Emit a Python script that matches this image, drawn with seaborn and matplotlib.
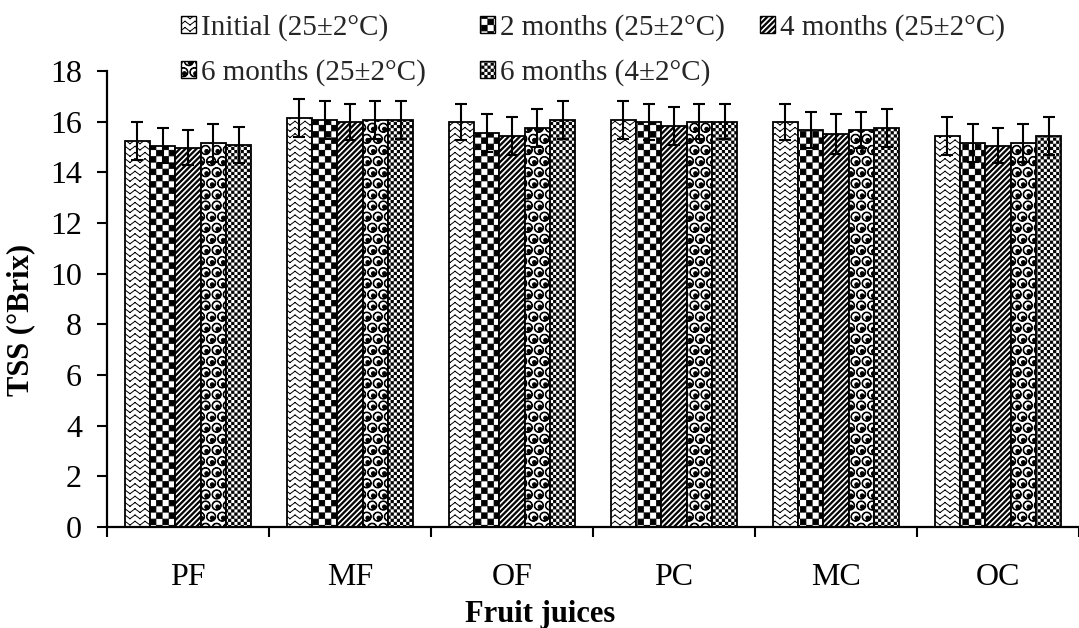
import warnings
warnings.filterwarnings("ignore")
import numpy as np
import pandas as pd
import matplotlib
matplotlib.use("Agg")
import matplotlib.pyplot as plt
import matplotlib.hatch as mhatch
import matplotlib.patches as mpatches
from matplotlib.path import Path
import seaborn as sns

# ---------------- data ----------------
juices = ["PF", "MF", "OF", "PC", "MC", "OC"]
storage = ["Initial (25\u00b12\u00b0C)", "2 months (25\u00b12\u00b0C)", "4 months (25\u00b12\u00b0C)",
           "6 months (25\u00b12\u00b0C)", "6 months (4\u00b12\u00b0C)"]
tss_initial = [15.24, 16.13, 15.98, 16.07, 15.99, 15.45]
tss_2m = [15.05, 16.07, 15.54, 15.99, 15.67, 15.16]
tss_4m = [14.97, 15.98, 15.45, 15.84, 15.51, 15.05]
tss_6m = [15.16, 16.07, 15.75, 16.00, 15.67, 15.16]
tss_6m_cold = [15.07, 16.07, 16.07, 16.00, 15.75, 15.45]
sd_initial = [0.75, 0.75, 0.70, 0.75, 0.70, 0.75]
sd_2m = [0.70, 0.75, 0.75, 0.70, 0.70, 0.75]
sd_4m = [0.70, 0.70, 0.75, 0.75, 0.80, 0.70]
sd_6m = [0.75, 0.75, 0.75, 0.70, 0.70, 0.75]
sd_6m_cold = [0.70, 0.75, 0.75, 0.70, 0.75, 0.75]
yticks = [0, 2, 4, 6, 8, 10, 12, 14, 16, 18]

series = [tss_initial, tss_2m, tss_4m, tss_6m, tss_6m_cold]
errors = [sd_initial, sd_2m, sd_4m, sd_6m, sd_6m_cold]

# ---------------- custom hatch patterns ----------------
mhatch._validate_hatch_pattern = lambda h: None


def _square(x0, y0, x1, y1):
    return [(x0, y0), (x1, y0), (x1, y1), (x0, y1), (x0, y0)], \
        [Path.MOVETO, Path.LINETO, Path.LINETO, Path.LINETO, Path.CLOSEPOLY]


def _circle(cx, cy, r, reverse=False):
    c = Path.unit_circle()
    v = c.vertices * r + np.array([cx, cy])
    cd = c.codes.copy()
    if reverse:
        v = v[::-1]
    return [tuple(p) for p in v], list(cd)


class _CustomHatch(mhatch.HatchPatternBase):
    char = "?"

    def __init__(self, hatch, density):
        n = hatch.count(self.char)
        verts, codes = [], []
        if n:
            verts, codes = self.build(n)
        self._v = np.array(verts, dtype=float).reshape(-1, 2)
        self._c = np.array(codes, dtype=Path.code_type)
        self.num_vertices = len(self._v)

    def set_vertices_and_codes(self, vertices, codes):
        vertices[:] = self._v
        codes[:] = self._c


class _Checker(_CustomHatch):
    m = 16
    e = 0.004

    def build(self, n):
        m, e = self.m, self.e
        s = 1.0 / m
        V, C = [], []
        for i in range(m):
            for j in range(m):
                if (i + j) % 2 == 0:
                    v, c = _square(i * s + e, j * s + e, (i + 1) * s - e, (j + 1) * s - e)
                    V += v
                    C += c
        return V, C


class BigChecker(_Checker):
    char = "c"
    m = 16
    e = 0.004


class SmallChecker(_Checker):
    char = "k"
    m = 32
    e = 0.0045


class Stripes(_CustomHatch):
    char = "s"

    def build(self, n):
        m = 18
        w = 0.018
        V, C = [], []
        for k in range(-m - 2, m + 2):
            c0 = k / m
            V += [(c0, 0), (c0 + w, 0), (c0 + w + 1, 1), (c0 + 1, 1), (c0, 0)]
            C += [Path.MOVETO, Path.LINETO, Path.LINETO, Path.LINETO, Path.CLOSEPOLY]
        return V, C


class Balls(_CustomHatch):
    char = "b"

    def build(self, n):
        m = 9
        s = 1.0 / m
        V, C = [], []
        for row in range(m + 1):
            cy = (row + 0.5) * s
            offset = 0.0 if row % 2 == 0 else 0.5
            for col in range(-1, m + 1):
                cx = (col + 0.5 + offset) * s
                if cx < -s or cx > 1 + s:
                    continue
                v, c = _circle(cx, cy, 0.42 * s)
                V += v
                C += c
                v, c = _circle(cx, cy, 0.36 * s, reverse=True)
                V += v
                C += c
                v, c = _circle(cx + 0.1 * s, cy - 0.12 * s, 0.17 * s)
                V += v
                C += c
        return V, C


class Zigzag(_CustomHatch):
    char = "z"

    def build(self, n):
        rows = 16
        per = 10
        dy = 1.0 / rows
        amp = 0.6 * dy
        V, C = [], []
        for r in range(-1, rows + 1):
            y0 = r * dy
            for k in range(per):
                xa = k / per
                xm = (k + 0.5) / per
                xb = (k + 1) / per
                V += [(xa, y0), (xm, y0 + amp), (xm, y0 + amp), (xb, y0)]
                C += [Path.MOVETO, Path.LINETO, Path.MOVETO, Path.LINETO]
        return V, C


mhatch._hatch_types.extend([BigChecker, SmallChecker, Stripes, Balls, Zigzag])

hatches = ["z", "c", "s", "b", "k"]

# ---------------- figure ----------------
sns.set_theme(style="white")
plt.rcParams["font.family"] = ["Liberation Serif", "DejaVu Serif"]
plt.rcParams["hatch.linewidth"] = 0.7
plt.rcParams["hatch.color"] = "black"

rows = []
for s_name, vals in zip(storage, series):
    for j, v in zip(juices, vals):
        rows.append({"juice": j, "storage": s_name, "tss": v})
df = pd.DataFrame(rows)

fig = plt.figure(figsize=(10.79, 6.28), dpi=100)
ax = fig.add_axes([107 / 1079, 101 / 628, 972 / 1079, 456 / 628])

sns.barplot(data=df, x="juice", y="tss", hue="storage", order=juices, hue_order=storage,
            palette=["white"] * 5, saturation=1, edgecolor="black", linewidth=1.3,
            width=0.78, gap=0, errorbar=None, legend=False, ax=ax)

for cont, h, err in zip(ax.containers, hatches, errors):
    xs, ys = [], []
    for bar in cont:
        bar.set_hatch(h)
        xs.append(bar.get_x() + bar.get_width() / 2)
        ys.append(bar.get_height())
    ax.errorbar(xs, ys, yerr=err, fmt="none", ecolor="black", elinewidth=1.5,
                capsize=4.5, capthick=1.5, zorder=5)

ax.set_ylim(0, 18)
ax.set_xlim(-0.5, 5.456)
ax.set_yticks(yticks)
ax.set_xticks(range(len(juices)))
ax.set_xticklabels(juices)
ax.set_xticks(np.arange(-0.5, 6, 1), minor=True)

for sp in ["top", "right"]:
    ax.spines[sp].set_visible(False)
for sp in ["left", "bottom"]:
    ax.spines[sp].set_color("black")
    ax.spines[sp].set_linewidth(1.6)

ax.tick_params(axis="y", which="major", direction="out", length=7, width=1.5,
               labelsize=23, pad=11, colors="black", left=True)
ax.tick_params(axis="x", which="major", length=0, labelsize=23, pad=26, colors="black")
ax.tick_params(axis="x", which="minor", direction="out", length=7.5, width=1.5,
               colors="black", bottom=True)

ax.set_ylabel("TSS (\u00b0Brix)", fontsize=22, fontweight="bold", color="black")
ax.set_xlabel("Fruit juices", fontsize=22, fontweight="bold", color="black")
ax.yaxis.set_label_coords(-0.074, 0.454)
ax.xaxis.set_label_coords(0.4455, -0.16)

handles = [mpatches.Patch(facecolor="white", edgecolor="black", linewidth=1.0, hatch=h)
           for h in hatches]
leg_kw = dict(loc="upper left", frameon=False, fontsize=21, handlelength=0.5,
              handleheight=0.5, handletextpad=0.2, labelspacing=0.62,
              borderpad=0, borderaxespad=0)
columns = [([0, 3], 181), ([1, 4], 480), ([2], 760)]
for idx, xpix in columns:
    fig.legend([handles[i] for i in idx], [storage[i] for i in idx],
               bbox_to_anchor=(xpix / 1079, 1 - 14 / 628), **leg_kw)

fig.savefig("out.png", dpi=100)
